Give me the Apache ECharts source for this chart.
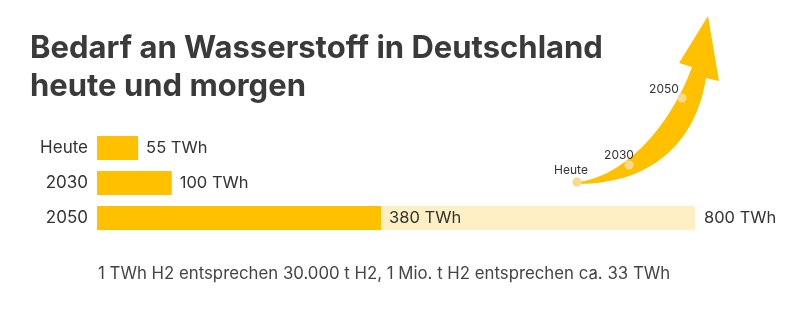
<!DOCTYPE html>
<html><head><meta charset="utf-8">
<script src="https://cdn.jsdelivr.net/npm/echarts@6/dist/echarts.min.js"></script>
<style>html,body{margin:0;padding:0;background:#fff}#c{width:800px;height:310px}</style>
</head><body><div id="c"></div>
<script>
const categories = ['Heute', '2030', '2050'];
const demand = [55, 100, 380];
const potential = [null, null, 800];
const unit = 'TWh';
const arrowLabels = ['Heute', '2030', '2050'];

const FONT = 'Inter, "Noto Sans", sans-serif';

// decorative arrow outline (sampled cubic curves)
function cubic(p0, p1, p2, p3, n) {
  const out = [];
  for (let i = 0; i <= n; i++) {
    const t = i / n, u = 1 - t;
    out.push([
      u*u*u*p0[0] + 3*u*u*t*p1[0] + 3*u*t*t*p2[0] + t*t*t*p3[0],
      u*u*u*p0[1] + 3*u*u*t*p1[1] + 3*u*t*t*p2[1] + t*t*t*p3[1]
    ]);
  }
  return out;
}
const arrowPts = [].concat(
  cubic([577,182],[620,178],[668,132],[692,67], 30),
  [[679,63],[708,16],[719,81]],
  cubic([706,78],[696,142],[652,184],[577,184], 30)
);

const chart = echarts.init(document.getElementById('c'), null, {renderer: 'canvas'});
chart.setOption({
  backgroundColor: '#ffffff',
  animation: false,
  textStyle: {fontFamily: FONT},
  title: [
    {text: 'Bedarf an Wasserstoff in Deutschland\nheute und morgen', left: 25, top: 25,
     textStyle: {fontFamily: FONT, fontSize: 31, fontWeight: 'bold', color: '#3a3a3a', lineHeight: 38}},
    {text: '1 TWh H2 entsprechen 30.000 t H2, 1 Mio. t H2 entsprechen ca. 33 TWh', left: 93, top: 260,
     textStyle: {fontFamily: FONT, fontSize: 16.8, fontWeight: 'normal', color: '#444444'}}
  ],
  grid: {left: 97, top: 130.5, width: 598, height: 105},
  xAxis: {type: 'value', min: 0, max: 800, show: false},
  yAxis: {type: 'category', data: categories, inverse: true,
    axisLine: {show: false}, axisTick: {show: false},
    axisLabel: {fontFamily: FONT, fontSize: 17, color: '#333333', margin: 9}},
  series: [
    {type: 'bar', data: potential, barWidth: 24, barGap: '-100%',
     itemStyle: {color: '#FEEFC4'}, silent: true,
     label: {show: true, position: 'right', distance: 9, fontFamily: FONT, fontSize: 16.5, color: '#333333',
       formatter: p => p.value + ' ' + unit}},
    {type: 'bar', data: demand, barWidth: 24,
     itemStyle: {color: '#FFC000'}, silent: true,
     label: {show: true, position: 'right', distance: 8, fontFamily: FONT, fontSize: 16.5, color: '#333333',
       formatter: p => p.value + ' ' + unit}}
  ],
  graphic: [
    {type: 'polygon', shape: {points: arrowPts}, style: {fill: '#FFC000'}},
    {type: 'circle', shape: {cx: 577, cy: 182, r: 4.5}, style: {fill: '#FBD98C'}},
    {type: 'circle', shape: {cx: 629, cy: 165, r: 4.5}, style: {fill: '#FBD98C'}},
    {type: 'circle', shape: {cx: 682, cy: 98, r: 4.5}, style: {fill: '#FBD98C'}},
    {type: 'text', style: {text: arrowLabels[0], x: 571, y: 170, align: 'center', verticalAlign: 'middle', font: '12px ' + FONT, fill: '#333333'}},
    {type: 'text', style: {text: arrowLabels[1], x: 619, y: 155, align: 'center', verticalAlign: 'middle', font: '12px ' + FONT, fill: '#333333'}},
    {type: 'text', style: {text: arrowLabels[2], x: 664, y: 89, align: 'center', verticalAlign: 'middle', font: '12px ' + FONT, fill: '#333333'}}
  ]
});
</script></body></html>
